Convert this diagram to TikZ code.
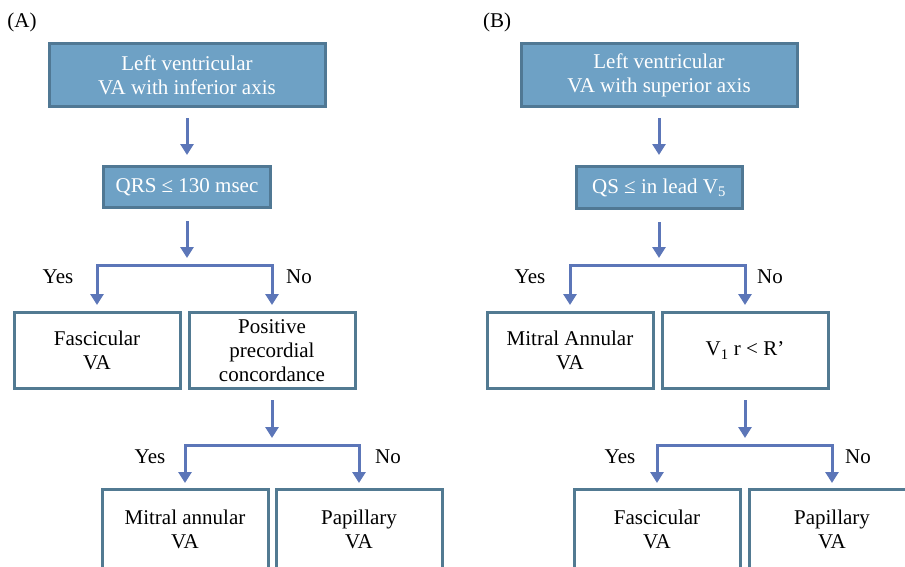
\documentclass[tikz,border=0pt]{standalone}
\usepackage{fontspec}
\setmainfont{Liberation Serif}
\usetikzlibrary{arrows.meta}
\definecolor{HeadFill}{RGB}{110,161,197}
\definecolor{HeadLine}{RGB}{80,120,148}
\definecolor{LeafLine}{RGB}{82,122,146}
\definecolor{FlowBlue}{RGB}{92,118,184}

\begin{document}
\begin{tikzpicture}[x=1pt,y=1pt,
  every node/.style={font=\fontsize{21}{24}\selectfont},
  headbox/.style={draw=HeadLine,line width=3pt,fill=HeadFill,text=white,align=center,inner sep=0pt},
  leafbox/.style={draw=LeafLine,line width=3pt,fill=white,align=center,inner sep=0pt,
    minimum width=166pt,minimum height=76pt},
  lowbox/.style={leafbox,minimum height=80pt,anchor=north},
  flow/.style={draw=FlowBlue,line width=3pt,-{Triangle[width=13pt,length=11pt]}}]
  \clip (0,0) rectangle (905,-566);

  % (A) inferior axis
  \node (aTag) at (22,-22) {(A)};
  \node[headbox,minimum width=276pt,minimum height=63pt] (aTop) at (187,-75)
    {Left ventricular\\VA with inferior axis};
  \node[headbox,minimum width=167pt,minimum height=41pt] (aQrs) at (187,-187)
    {QRS ≤ 130 msec};
  \node[leafbox] (aFas) at (97,-350.5) {Fascicular\\VA};
  \node[leafbox] (aPos) at (272,-350.5) {Positive\\precordial\\concordance};
  \node[lowbox] (aMit) at (185,-488) {Mitral annular\\VA};
  \node[lowbox] (aPap) at (359,-488) {Papillary\\VA};
  \coordinate (aFork) at (187,-258);
  \coordinate (aBar) at (187,-265);
  \coordinate (aFork2) at (272,-438);
  \coordinate (aBar2) at (272,-445);
  \node (aYes) at (58,-277) {Yes};
  \node (aNo) at (299,-277) {No};
  \node (aYes2) at (150,-457) {Yes};
  \node (aNo2) at (388,-457) {No};
  \draw[flow,shorten <=10pt,shorten >=10pt] (aTop) -- (aQrs);
  \draw[flow,shorten <=12pt] (aQrs.south) -- (aFork);
  \draw[flow,shorten >=6pt] (aBar) -| (aFas.north);
  \draw[flow,shorten >=6pt] (aBar) -| (aPos.north);
  \draw[flow,shorten <=10pt] (aPos.south) -- (aFork2);
  \draw[flow,shorten >=5pt] (aBar2) -| (aMit.north);
  \draw[flow,shorten >=5pt] (aBar2) -| (aPap.north);

  % (B) superior axis
  \node (bTag) at (497,-22) {(B)};
  \node[headbox,minimum width=276pt,minimum height=63pt] (bTop) at (659,-75)
    {Left ventricular\\VA with superior axis};
  \node[headbox,minimum width=166pt,minimum height=42pt] (bQs) at (659,-187.5)
    {QS ≤ in lead V\textsubscript{5}};
  \node[leafbox] (bMit) at (570,-350.5) {Mitral Annular\\VA};
  \node[leafbox] (bRat) at (745,-350.5) {V\textsubscript{1} r < R’};
  \node[lowbox] (bFas) at (657,-488) {Fascicular\\VA};
  \node[lowbox] (bPap) at (832,-488) {Papillary\\VA};
  \coordinate (bFork) at (659,-258);
  \coordinate (bBar) at (659,-265);
  \coordinate (bFork2) at (745,-438);
  \coordinate (bBar2) at (745,-445);
  \node (bYes) at (530,-277) {Yes};
  \node (bNo) at (770,-277) {No};
  \node (bYes2) at (620,-457) {Yes};
  \node (bNo2) at (858,-457) {No};
  \draw[flow,shorten <=10pt,shorten >=10pt] (bTop) -- (bQs);
  \draw[flow,shorten <=12pt] (bQs.south) -- (bFork);
  \draw[flow,shorten >=6pt] (bBar) -| (bMit.north);
  \draw[flow,shorten >=6pt] (bBar) -| (bRat.north);
  \draw[flow,shorten <=10pt] (bRat.south) -- (bFork2);
  \draw[flow,shorten >=5pt] (bBar2) -| (bFas.north);
  \draw[flow,shorten >=5pt] (bBar2) -| (bPap.north);
\end{tikzpicture}
\end{document}
